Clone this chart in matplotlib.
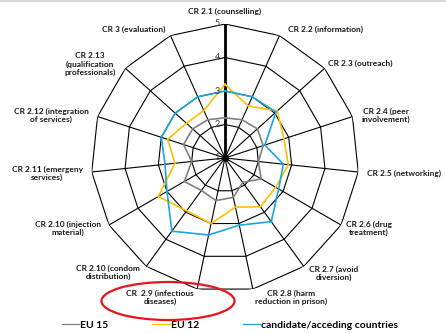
import numpy as np
import matplotlib.pyplot as plt
from matplotlib.patches import Ellipse
from matplotlib.lines import Line2D
import matplotlib.transforms as mtransforms

plt.rcParams['font.family'] = ['Lato', 'DejaVu Sans']

# core requirement scores per region (scale 1-5)
categories = ['CR 2.1 (counselling)', 'CR 2.2 (information)', 'CR 2.3 (outreach)',
              'CR 2.4 (peer\ninvolvement)', 'CR 2.5 (networking)',
              'CR 2.6 (drug\ntreatment)', 'CR 2.7 (avoid\ndiversion)',
              'CR 2.8 (harm\nreduction in prison)', 'CR  2.9 (infectious\ndiseases)',
              'CR 2.10 (condom\ndistribution)', 'CR 2.10 (injection\nmaterial)',
              'CR 2.11 (emergeny\nservices)', 'CR 2.12 (integration\nof services)',
              'CR 2.13\n(qualification\nprofessionals)', 'CR 3 (evaluation)']
eu15 = [2.2, 2.25, 2.3, 2.2, 2.0, 2.25, 1.9, 2.2, 2.3, 2.2, 2.4, 2.0, 2.3, 2.3, 2.25]
eu12 = [3.2, 2.7, 3.1, 2.85, 2.9, 2.75, 2.8, 2.5, 3.0, 2.95, 3.3, 2.5, 2.8, 2.55, 2.55]
candidate = [3.0, 3.0, 3.05, 2.25, 2.75, 2.85, 3.35, 3.05, 3.35, 3.7, 3.0, 2.8, 3.0, 3.0, 3.0]
series_names = ['EU 15', 'EU 12', 'candidate/acceding countries']
series_colors = ['#808080', '#FFC000', '#1AA6DF']
ticks = [1, 2, 3, 4, 5]

W, H = 446, 333
fig = plt.figure(figsize=(W / 100, H / 100), dpi=100)
ax = fig.add_axes([91 / W, 41 / H, 268 / W, 268 / H], projection='polar')
ax.set_theta_zero_location('N')
ax.set_theta_direction(-1)
ax.set_ylim(ticks[0], ticks[-1])
ax.grid(False)
ax.spines['polar'].set_visible(False)
ax.set_xticks([])
ax.set_yticks([])
ax.patch.set_visible(False)

n = len(categories)
angles = np.arange(n) * 2 * np.pi / n
closed = np.append(angles, angles[0])

# polygon rings and spokes
for t in ticks[1:]:
    ax.plot(closed, [t] * (n + 1), color='black', lw=0.8, zorder=1)
for a in angles[1:]:
    ax.plot([a, a], [ticks[0], ticks[-1]], color='black', lw=0.8, zorder=1)
ax.plot([0, 0], [ticks[0], ticks[-1]], color='black', lw=2.0, zorder=2)
ax.plot([0], [ticks[0]], 'o', color='black', ms=4, zorder=2)

for vals, name, col in zip([eu15, eu12, candidate], series_names, series_colors):
    ax.plot(closed, vals + vals[:1], color=col, lw=1.2, label=name, zorder=3)

# value labels along the vertical axis
off = mtransforms.offset_copy(ax.transData, fig=fig, x=-5, y=0, units='dots')
for t in ticks:
    ax.text(0, t, str(t), transform=off, ha='right', va='center',
            fontsize=6.5, color='#404040')

# category labels (pixel positions of label centres)
label_pos = [(225, 11), (325, 29), (360, 63), (386, 115), (404, 173),
             (369, 228), (334, 273), (291, 297), (160, 297), (108, 272),
             (68, 228), (47, 173), (51, 115), (90, 64), (134, 29)]
for lab, (px, py) in zip(categories, label_pos):
    fig.text(px / W, 1 - py / H, lab, ha='center', va='center',
             fontsize=6, fontweight='bold', color='#1a1a1a', linespacing=1.15)

handles = [Line2D([], [], color=c, lw=0.9) for c in series_colors]
fig.legend(handles, series_names, loc='center', bbox_to_anchor=(230 / W, 8 / H),
           ncol=3, frameon=False, handlelength=1.65, handletextpad=0.1,
           columnspacing=4.2, prop={'size': 7.5, 'weight': 'bold'})

fig.add_artist(Ellipse((168 / W, 1 - 301 / H), 133 / W, 38 / H,
                       transform=fig.transFigure, fill=False,
                       edgecolor='#E8141B', lw=1.6))
fig.add_artist(Line2D([0, 1], [1 - 1 / H, 1 - 1 / H], color='#d9d9d9', lw=1.5))

fig.savefig('out.png', dpi=100)
